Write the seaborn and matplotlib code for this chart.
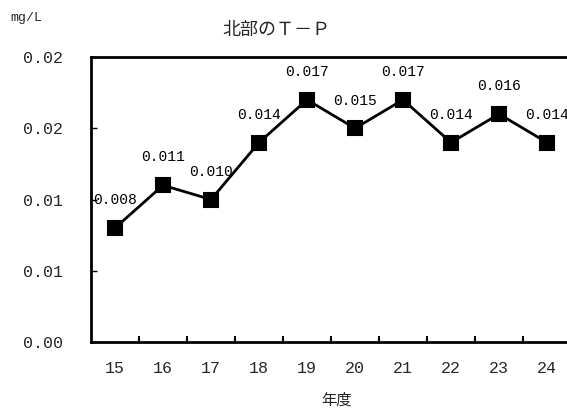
import matplotlib
matplotlib.use("Agg")
import matplotlib.pyplot as plt
import seaborn as sns
import pandas as pd
from matplotlib.ticker import FixedLocator

years = ["15", "16", "17", "18", "19", "20", "21", "22", "23", "24"]
values = [0.008, 0.011, 0.010, 0.014, 0.017, 0.015, 0.017, 0.014, 0.016, 0.014]
ytick_values = [0.0, 0.005, 0.010, 0.015, 0.020]
ytick_labels = ["0.00", "0.01", "0.01", "0.02", "0.02"]
title = "北部のＴ－Ｐ"
xlabel = "年度"
ylabel = "mg/L"

sns.set_style("white")
plt.rcParams["font.family"] = ["Liberation Mono", "Noto Sans CJK JP", "DejaVu Sans"]

df = pd.DataFrame({"year": years, "value": values})

fig = plt.figure(figsize=(5.67, 4.16), dpi=100)
ax = fig.add_axes([91 / 567, 1 - 342 / 416, 0.8466, 0.685])

sns.pointplot(data=df, x="year", y="value", color="black", markers="s",
              linestyles="-", markersize=10, linewidth=2, ax=ax)

ax.set_xlim(-0.5, len(years) - 0.5)
ax.set_ylim(0, 0.02)

for i, v in enumerate(values):
    ax.annotate(f"{v:.3f}", xy=(i, v), xytext=(0, 20), textcoords="offset points",
                ha="center", va="center", fontsize=10.5, color="black")

ax.set_yticks(ytick_values)
ax.set_yticklabels(ytick_labels, fontsize=12)
ax.tick_params(axis="y", which="major", left=True, direction="in", length=4,
               width=1, pad=20, color="black")
ax.set_xticks(range(len(years)))
ax.set_xticklabels(years, fontsize=12)
ax.tick_params(axis="x", which="major", bottom=True, length=0, pad=14)
ax.xaxis.set_minor_locator(FixedLocator([i + 0.5 for i in range(len(years) - 1)]))
ax.tick_params(axis="x", which="minor", bottom=True, direction="in", length=4,
               width=1.5, color="black")

for side in ["left", "top", "bottom", "right"]:
    ax.spines[side].set_visible(True)
    ax.spines[side].set_color("black")
    ax.spines[side].set_linewidth(2)

ax.set_xlabel("")
ax.set_ylabel("")

fig.text(276 / 567, 1 - 30 / 416, title, ha="center", va="center", fontsize=13)
fig.text(336 / 567, 1 - 400 / 416, xlabel, ha="center", va="center", fontsize=11)
fig.text(10 / 567, 1 - 18 / 416, ylabel, ha="left", va="center", fontsize=9.5)

fig.savefig("out.png", dpi=100)
